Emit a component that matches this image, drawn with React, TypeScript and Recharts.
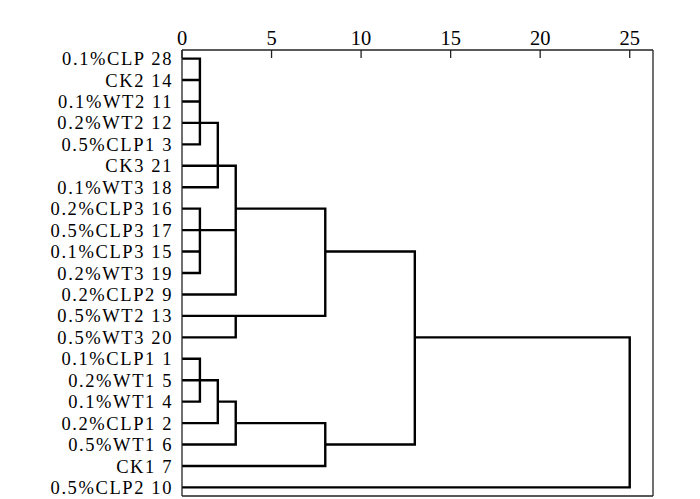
import { LineChart, Line, XAxis, YAxis, ReferenceLine } from 'recharts';

// leaf order top to bottom
const leafLabels = [
  '0.1%CLP 28', 'CK2 14', '0.1%WT2 11', '0.2%WT2 12', '0.5%CLP1 3', 'CK3 21', '0.1%WT3 18',
  '0.2%CLP3 16', '0.5%CLP3 17', '0.1%CLP3 15', '0.2%WT3 19', '0.2%CLP2 9', '0.5%WT2 13',
  '0.5%WT3 20', '0.1%CLP1 1', '0.2%WT1 5', '0.1%WT1 4', '0.2%CLP1 2', '0.5%WT1 6', 'CK1 7',
  '0.5%CLP2 10',
];

// merges (rescaled distance); children are leaf labels or earlier cluster ids
const clusterIds = ['c1', 'c2', 'c3', 'c4', 'c5', 'c6', 'c7', 'c8', 'c9', 'c10', 'c11', 'c12'];
const clusterChildren = [
  ['0.1%CLP 28', 'CK2 14', '0.1%WT2 11', '0.2%WT2 12', '0.5%CLP1 3'],
  ['c1', 'CK3 21', '0.1%WT3 18'],
  ['0.2%CLP3 16', '0.5%CLP3 17', '0.1%CLP3 15', '0.2%WT3 19'],
  ['c2', 'c3', '0.2%CLP2 9'],
  ['0.5%WT2 13', '0.5%WT3 20'],
  ['c4', 'c5'],
  ['0.1%CLP1 1', '0.2%WT1 5', '0.1%WT1 4'],
  ['c7', '0.2%CLP1 2'],
  ['c8', '0.5%WT1 6'],
  ['c9', 'CK1 7'],
  ['c6', 'c10'],
  ['c11', '0.5%CLP2 10'],
];
const clusterHeights = [1, 2, 1, 3, 3, 8, 1, 2, 3, 8, 13, 25];
// row the cluster's link leaves from
const clusterRows = [
  '0.2%WT2 12', 'CK3 21', '0.5%CLP3 17', '0.2%CLP3 16', '0.5%WT2 13', '0.1%CLP3 15',
  '0.2%WT1 5', '0.1%WT1 4', '0.2%CLP1 2', '0.5%WT1 6', '0.5%WT3 20', '0.5%WT3 20',
];

const xTicks = [0, 5, 10, 15, 20, 25];
const xMax = 26.3;
const yMin = -0.4;
const yMax = 20.4;

function buildSegments() {
  const nodes: Record<string, { h: number; r: number }> = {};
  leafLabels.forEach((l, i) => { nodes[l] = { h: 0, r: i }; });
  const pts: { x: number; y: number | null }[] = [];
  clusterIds.forEach((id, k) => {
    const h = clusterHeights[k];
    const rows: number[] = [];
    clusterChildren[k].forEach((c) => {
      const n = nodes[c];
      rows.push(n.r);
      pts.push({ x: n.h, y: n.r }, { x: h, y: n.r }, { x: h, y: null });
    });
    pts.push({ x: h, y: Math.min(...rows) }, { x: h, y: Math.max(...rows) }, { x: h, y: null });
    nodes[id] = { h, r: leafLabels.indexOf(clusterRows[k]) };
  });
  return pts;
}

const segData = buildSegments();
const font = '"Liberation Serif", "Times New Roman", serif';
const frame = '#222';

function TopTick(props: any) {
  const { x, y, payload } = props;
  return (
    <g>
      <line x1={x} y1={y} x2={x} y2={y + 8} stroke={frame} strokeWidth={1.3} />
      <text x={x} y={y - 5} textAnchor="middle" fontSize={20.5} fontFamily={font} fill="#000">
        {payload.value}
      </text>
    </g>
  );
}

export default function App() {
  return (
    <LineChart
      width={692}
      height={491}
      data={segData}
      margin={{ top: 0, right: 47, bottom: 3, left: 0 }}
    >
      <XAxis
        dataKey="x"
        type="number"
        orientation="top"
        domain={[0, xMax]}
        allowDataOverflow
        ticks={xTicks}
        interval={0}
        height={42}
        tickSize={0}
        tickMargin={0}
        tickLine={false}
        tick={<TopTick />}
        axisLine={{ stroke: frame, strokeWidth: 1.3 }}
      />
      <YAxis
        type="number"
        domain={[yMin, yMax]}
        allowDataOverflow
        reversed
        ticks={leafLabels.map((_, i) => i)}
        interval={0}
        width={174}
        tickSize={0}
        tickMargin={9}
        tickLine={false}
        tickFormatter={(v: number) => leafLabels[v] ?? ''}
        tick={{ fontSize: 18.5, fill: '#000', fontFamily: font, letterSpacing: 1.6 }}
        axisLine={{ stroke: frame, strokeWidth: 1.3 }}
      />
      <ReferenceLine x={xMax} stroke={frame} strokeWidth={1.3} />
      <ReferenceLine y={yMax} stroke={frame} strokeWidth={1.3} />
      <Line
        dataKey="y"
        stroke="#000"
        strokeWidth={2.4}
        dot={false}
        activeDot={false}
        connectNulls={false}
        isAnimationActive={false}
        strokeLinecap="square"
      />
    </LineChart>
  );
}
